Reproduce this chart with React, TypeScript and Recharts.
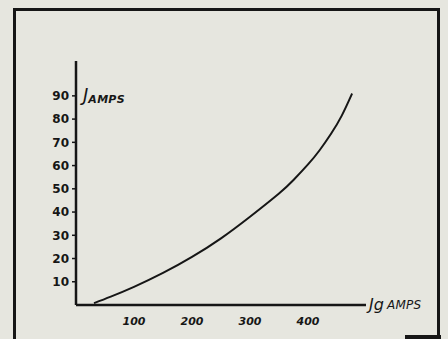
import React from "react";
import { LineChart, Line, XAxis, YAxis } from "recharts";

const gridCurrent = [31, 60, 100, 150, 200, 250, 300, 350, 375, 400, 420, 440, 458, 476];
const current = [0.8, 3.6, 7.8, 13.8, 20.7, 28.7, 38.0, 48.0, 53.8, 60.5, 66.6, 73.8, 81.4, 91.0];
const xTicks = [100, 200, 300, 400];
const yTicks = [10, 20, 30, 40, 50, 60, 70, 80, 90];
const yAxisLabel = { main: "J", sub: "AMPS" };
const xAxisLabel = { main: "Jg", sub: "AMPS" };

const data = gridCurrent.map((x, i) => ({ x, y: current[i] }));

const INK = "#161616";
const BG = "#e6e6df";
const FONT = "'DejaVu Sans', Verdana, sans-serif";

const YLabel = (props: any) => {
  const vb = props.viewBox || {};
  const x = vb.x + vb.width + 7;
  const y = vb.y + 40;
  return (
    <text x={x} y={y} fill={INK} fontFamily={FONT} fontStyle="italic">
      <tspan fontSize={18}>{yAxisLabel.main}</tspan>
      <tspan fontSize={11} fontWeight="bold" dy={2} letterSpacing={0.3}>{yAxisLabel.sub}</tspan>
    </text>
  );
};

const XLabel = (props: any) => {
  const vb = props.viewBox || {};
  const x = vb.x + vb.width + 3;
  const y = vb.y + 5;
  return (
    <text x={x} y={y} fill={INK} fontFamily={FONT} fontStyle="italic">
      <tspan fontSize={16}>{xAxisLabel.main}</tspan>
      <tspan fontSize={12} dx={3} dy={-1} letterSpacing={0.3}>{xAxisLabel.sub}</tspan>
    </text>
  );
};

export default function App() {
  return (
    <div
      style={{
        position: "absolute",
        left: 0,
        top: 0,
        width: 448,
        height: 339,
        background: BG,
        overflow: "hidden",
      }}
    >
      <div
        style={{
          position: "absolute",
          left: 13,
          top: 8,
          width: 421,
          height: 340,
          borderLeft: `3px solid ${INK}`,
          borderTop: `3px solid ${INK}`,
          borderRight: `3px solid ${INK}`,
        }}
      />
      <div
        style={{
          position: "absolute",
          left: 405,
          top: 335,
          width: 36,
          height: 4,
          background: INK,
        }}
      />
      <div style={{ position: "absolute", left: 0, top: 0 }}>
        <LineChart
          width={448}
          height={339}
          data={data}
          margin={{ top: 61, right: 82, bottom: 4, left: 0 }}
        >
          <XAxis
            dataKey="x"
            type="number"
            domain={[0, 500]}
            ticks={xTicks}
            tickLine={false}
            axisLine={{ stroke: INK, strokeWidth: 2.5 }}
            tick={{ fill: INK, fontSize: 11, fontWeight: "bold", fontStyle: "italic", fontFamily: FONT }}
            tickMargin={6}
            height={30}
            label={<XLabel />}
          />
          <YAxis
            type="number"
            domain={[0, 105]}
            ticks={yTicks}
            width={76}
            tickSize={4}
            tickMargin={3}
            tickLine={{ stroke: INK, strokeWidth: 1.5 }}
            axisLine={{ stroke: INK, strokeWidth: 2.5 }}
            tick={{ fill: INK, fontSize: 12, fontWeight: "bold", fontFamily: FONT }}
            label={<YLabel />}
          />
          <Line
            type="natural"
            dataKey="y"
            stroke={INK}
            strokeWidth={2}
            dot={false}
            isAnimationActive={false}
          />
        </LineChart>
      </div>
    </div>
  );
}
